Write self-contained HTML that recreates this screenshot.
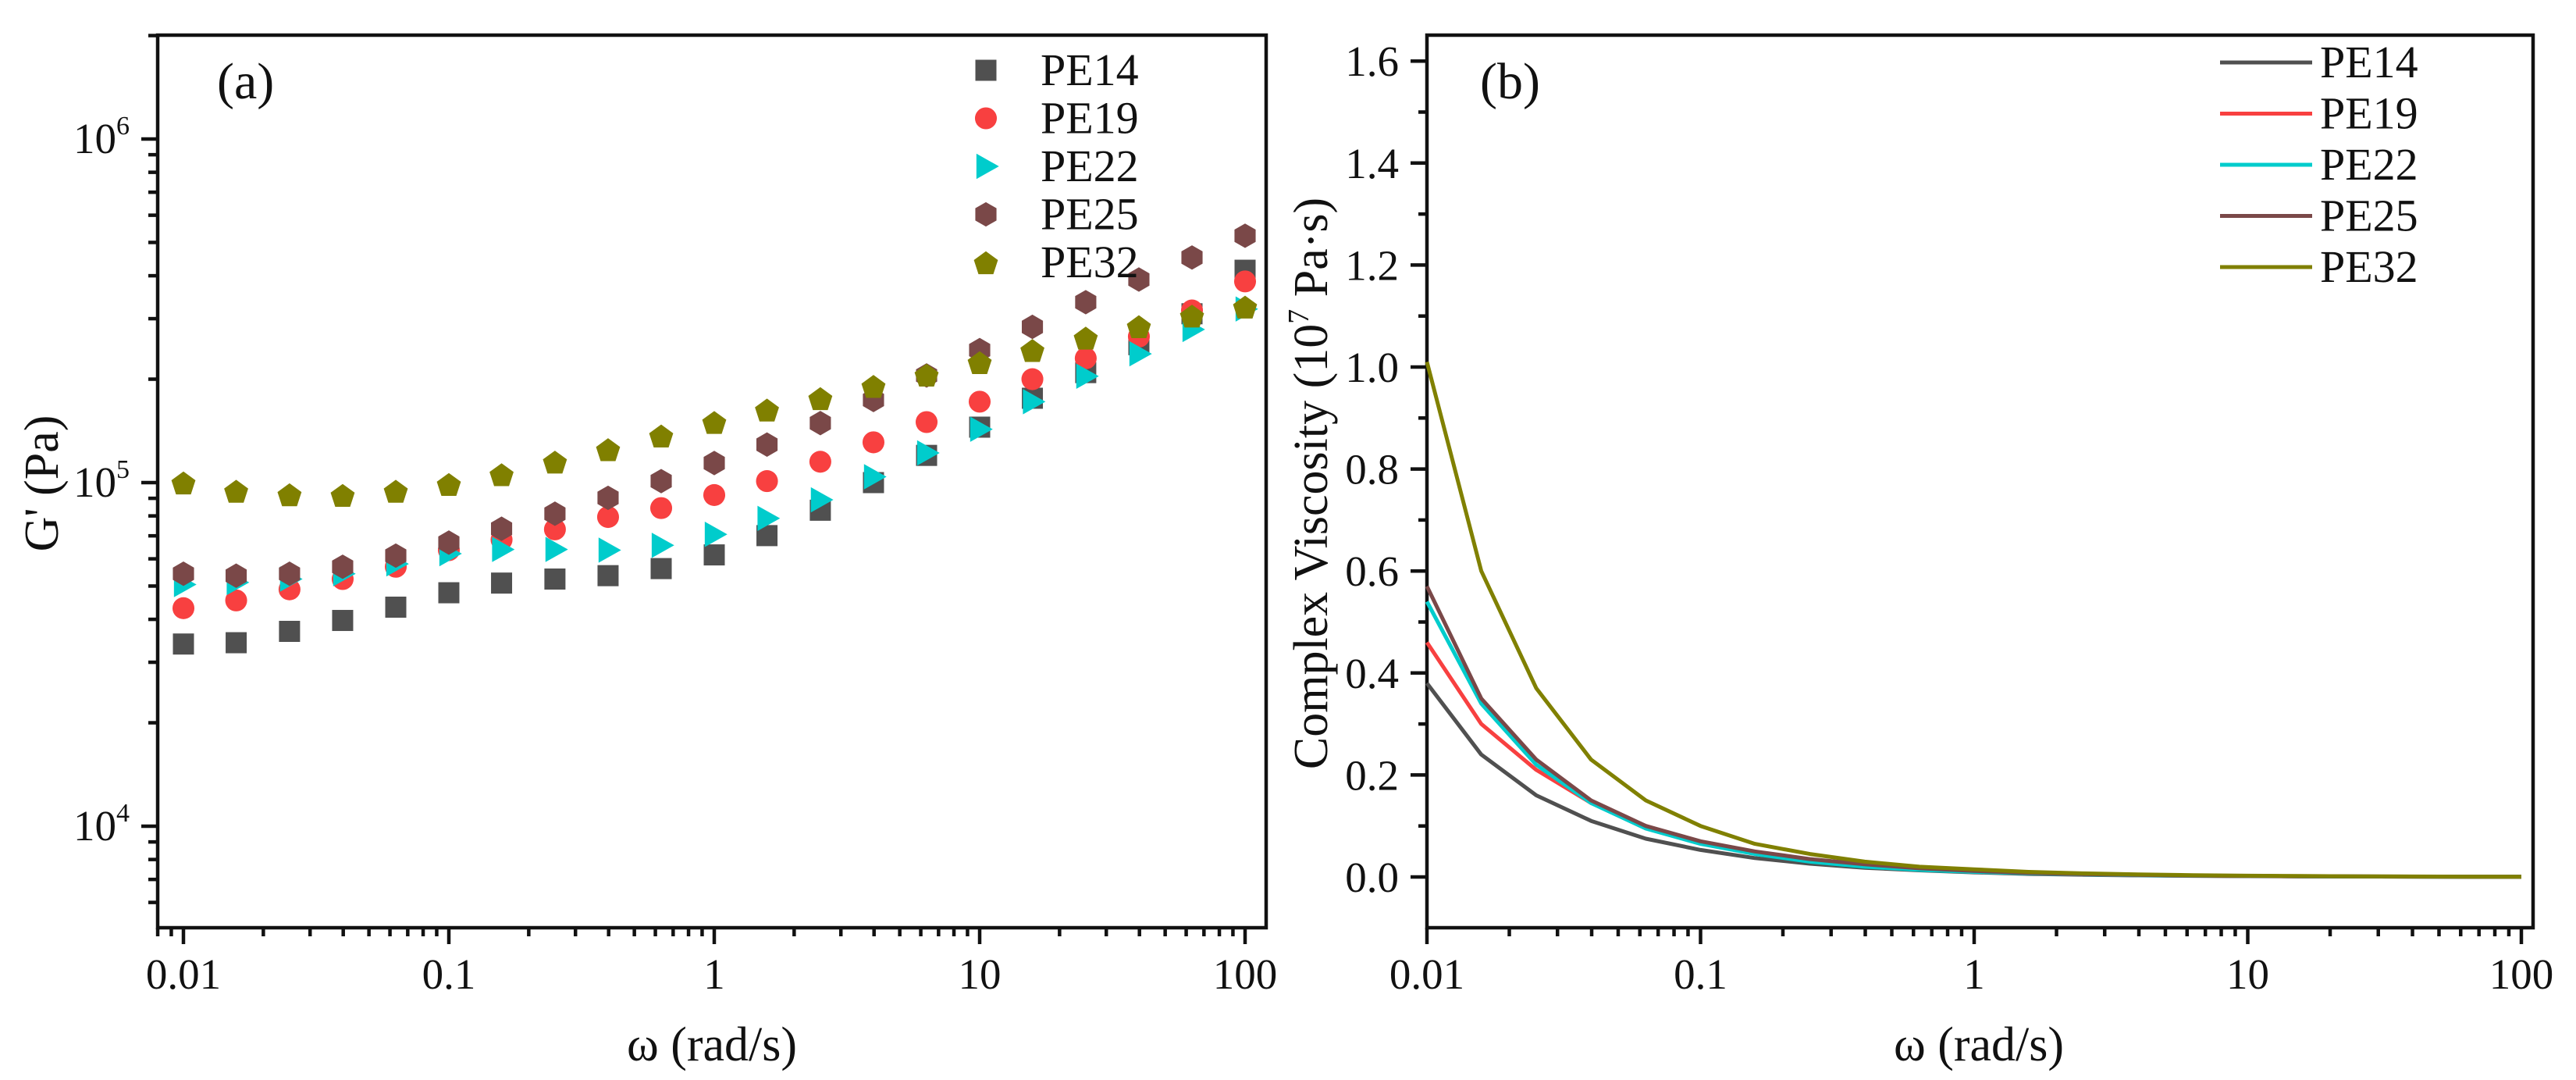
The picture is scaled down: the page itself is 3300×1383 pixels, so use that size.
<!DOCTYPE html>
<html><head><meta charset="utf-8"><style>
html,body{margin:0;padding:0;background:#fff;}
svg{display:block;font-family:"Liberation Serif",serif;}
</style></head><body>
<svg id="fig" width="3300" height="1383" viewBox="0 0 3300 1383" xmlns="http://www.w3.org/2000/svg"></svg>
<script>
const freqs = [0.01,0.0158,0.0251,0.0398,0.0631,0.1,0.158,0.251,0.398,0.631,1,1.58,2.51,3.98,6.31,10,15.8,25.1,39.8,63.1,100];
const seriesNames = ["PE14","PE19","PE22","PE25","PE32"];
const gPE14 = [33900,34200,36900,39700,43400,47800,51000,52400,53600,56200,61600,70100,83100,100000,120000,145000,176000,209000,252000,310000,415000];
const gPE19 = [43100,45400,48900,52400,56900,63600,68200,73100,79400,84300,92000,101000,115000,131000,150000,172000,200000,230000,266000,317000,385000];
const gPE22 = [50500,51200,52400,54300,58000,62100,63900,63900,63600,65700,70700,78700,89100,104000,122000,143000,172000,204000,237000,279000,320000];
const gPE25 = [54300,53600,54300,56900,61300,66900,73400,81200,90300,101000,114000,129000,149000,174000,205000,243000,284000,335000,390000,452000,523000];
const gPE32 = [100000,94600,92400,92000,94600,99000,105700,115000,125000,137000,150000,163000,176000,191000,206000,224000,243000,264000,285000,306000,325000];
const vPE14 = [0.38,0.24,0.16,0.11,0.075,0.053,0.037,0.026,0.018,0.013,0.009,0.006,0.0043,0.003,0.0021,0.0015,0.0011,0.0008,0.0006,0.0004,0.0003];
const vPE19 = [0.46,0.30,0.21,0.145,0.10,0.068,0.047,0.032,0.022,0.015,0.01,0.007,0.005,0.0035,0.0025,0.0018,0.0013,0.0009,0.0006,0.0004,0.0003];
const vPE22 = [0.54,0.34,0.22,0.145,0.095,0.065,0.045,0.03,0.02,0.014,0.01,0.007,0.005,0.0035,0.0025,0.0018,0.0013,0.0009,0.0006,0.0004,0.0003];
const vPE25 = [0.57,0.35,0.23,0.15,0.10,0.07,0.05,0.035,0.025,0.017,0.012,0.008,0.0055,0.004,0.0028,0.002,0.0014,0.001,0.0007,0.0005,0.0004];
const vPE32 = [1.01,0.60,0.37,0.23,0.15,0.10,0.065,0.045,0.030,0.020,0.015,0.010,0.007,0.005,0.0035,0.0025,0.0018,0.0013,0.0009,0.0006,0.0004];
const xTickLabels = ["0.01","0.1","1","10","100"];
const yTickLabelsB = ["0.0","0.2","0.4","0.6","0.8","1.0","1.2","1.4","1.6"];

const colors = ["#505050","#f84040","#00cccc","#7a4848","#808000"];
const NS="http://www.w3.org/2000/svg";
const svg=document.getElementById('fig');
function el(tag,attrs,parent){const e=document.createElementNS(NS,tag);for(const k in attrs)e.setAttribute(k,attrs[k]);(parent||svg).appendChild(e);return e;}

const L={x0:202,x1:1622,y0:45,y1:1188};
function xa(v){return 235+(Math.log10(v)+2)*340;}
function ya(v){return 618-(Math.log10(v)-5)*440;}
const R={x0:1828,x1:3245,y0:45,y1:1188};
function xb(v){return 1828+(Math.log10(v)+2)*350.5;}
function yb(v){return 1123-v*653;}

function frame(P,name){
  const r=el('rect',{x:P.x0,y:P.y0,width:P.x1-P.x0,height:P.y1-P.y0,fill:'none',stroke:'#111','stroke-width':4.5});
  
  
}
function text(x,y,s,size,anchor,name,extra){
  const t=el('text',Object.assign({x:x,y:y,'font-size':size,'text-anchor':anchor||'start',fill:'#111'},extra||{}));
  t.textContent=s;
  
  
  return t;
}
function xLogTicks(xf,P,grp){
  for(let d=-2;d<=2;d++){
    const x=xf(Math.pow(10,d));
    el('line',{x1:x,y1:P.y1,x2:x,y2:P.y1+21,stroke:'#111','stroke-width':4.5},grp);
    text(x,P.y1+78,xTickLabels[d+2],55,'middle','x-tick-label');
    if(d<2)for(let m=2;m<=9;m++){const xm=xf(m*Math.pow(10,d));el('line',{x1:xm,y1:P.y1,x2:xm,y2:P.y1+11,stroke:'#111','stroke-width':4.5},grp);}
  }
  for(let m=8;m<=9;m++){const xm=xf(m*0.001);if(xm>P.x0)el('line',{x1:xm,y1:P.y1,x2:xm,y2:P.y1+11,stroke:'#111','stroke-width':4.5},grp);}
}

// ---------- Plot (a) ----------
frame(L,'plot-a-frame');
const xtA=el('g',{});


xLogTicks(xa,L,xtA);
const ytA=el('g',{});


for(let d=3;d<=6;d++){
  for(let m=1;m<=9;m++){
    const v=m*Math.pow(10,d),y=ya(v);
    if(y<L.y0||y>L.y1)continue;
    el('line',{x1:L.x0,y1:y,x2:L.x0-(m===1?21:12),y2:y,stroke:'#111','stroke-width':4.5},ytA);
    if(m===1){
      const t=text(L.x0-36,y+18,'10',55,'end','y-tick-label');
      const s=el('tspan',{'font-size':34,dy:-24},t);s.textContent=String(d);
    }
  }
}
function marker(g,shape,x,y,c,s){
  let e;
  if(shape===0)e=el('rect',{x:x-s/2,y:y-s/2,width:s,height:s,fill:c},g);
  else if(shape===1)e=el('circle',{cx:x,cy:y,r:s*0.52,fill:c},g);
  else if(shape===2)e=el('polygon',{points:`${x-s*0.45},${y-s*0.6} ${x+s*0.62},${y} ${x-s*0.45},${y+s*0.6}`,fill:c},g);
  else if(shape===3){let p=[];for(let i=0;i<6;i++){const a=Math.PI/3*i-Math.PI/2;p.push((x+s*0.58*Math.cos(a))+','+(y+s*0.58*Math.sin(a)));}e=el('polygon',{points:p.join(' '),fill:c},g);}
  else {let p=[];for(let i=0;i<5;i++){const a=2*Math.PI/5*i-Math.PI/2;p.push((x+s*0.6*Math.cos(a))+','+(y+s*0.6*Math.sin(a)+2));}e=el('polygon',{points:p.join(' '),fill:c},g);}
  return e;
}
const gData=[gPE14,gPE19,gPE22,gPE25,gPE32];
gData.forEach((arr,si)=>{
  const g=el('g',{});
  
  
  arr.forEach((v,i)=>{
    const m=marker(g,si,xa(freqs[i]),ya(v),colors[si],27);
    
    
  });
});
const lgA=el('g',{});


seriesNames.forEach((n,i)=>{
  const y=90+i*61.5;
  const m=marker(lgA,i,1263,y,colors[i],27);
  
  
  text(1333,y+19,n,58,'start','legend-entry');
});
text(278,126,'(a)',66,'start','panel-label-a');
text(0,0,"G' (Pa)",62,'middle','y-axis-title-a',{transform:'translate(74,619) rotate(-90)'});
text(912,1358,'ω (rad/s)',62,'middle','x-axis-title-a');

// ---------- Plot (b) ----------
frame(R,'plot-b-frame');
const xtB=el('g',{});


xLogTicks(xb,R,xtB);
const ytB=el('g',{});


for(let k=-1;k<=16;k++){
  const y=yb(k/10);
  if(y<R.y0||y>R.y1)continue;
  const major=(k%2===0)&&k>=0;
  el('line',{x1:R.x0,y1:y,x2:R.x0-(major?21:11),y2:y,stroke:'#111','stroke-width':4.5},ytB);
  if(major)text(R.x0-36,y+19,yTickLabelsB[k/2],55,'end','y-tick-label');
}
const vData=[vPE14,vPE19,vPE22,vPE25,vPE32];
vData.forEach((arr,si)=>{
  const d=arr.map((v,i)=>(i?'L':'M')+xb(freqs[i]).toFixed(1)+','+yb(v).toFixed(1)).join(' ');
  const p=el('path',{d:d,fill:'none',stroke:colors[si],'stroke-width':5,'stroke-linejoin':'round'});
  
  
});
const lgB=el('g',{});


seriesNames.forEach((n,i)=>{
  const y=80+i*65.5;
  const ln=el('line',{x1:2844,y1:y,x2:2962,y2:y,stroke:colors[i],'stroke-width':5},lgB);
  
  
  text(2972,y+19,n,58,'start','legend-entry');
});
text(1896,126,'(b)',66,'start','panel-label-b');
const yt=text(0,0,'Complex Viscosity (10',62,'middle','y-axis-title-b',{transform:'translate(1700,619) rotate(-90)'});
const sup=el('tspan',{'font-size':38,dy:-24},yt);sup.textContent='7';
const rest=el('tspan',{dy:24},yt);rest.textContent=' Pa·s)';
text(2535,1358,'ω (rad/s)',62,'middle','x-axis-title-b');
</script>
</body></html>
